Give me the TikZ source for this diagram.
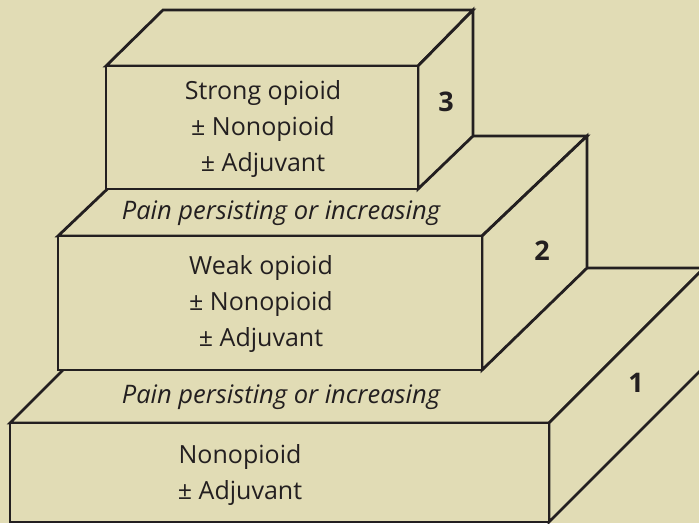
\documentclass[tikz,border=0pt]{standalone}
\usepackage{fontspec}
\setmainfont{Open Sans}
\definecolor{bg}{RGB}{225,220,181}
\definecolor{ink}{RGB}{35,31,32}
\tikzset{
  face/.style={fill=bg, draw=ink, line width=2.8pt, line join=miter},
  txt/.style={font=\fontsize{25}{36}\selectfont, text=ink, align=center, inner sep=0pt},
  pain/.style={font=\fontsize{25.5}{36}\selectfont\itshape, text=ink, inner sep=0pt},
  num/.style={font=\fontsize{27}{30}\selectfont\bfseries, text=ink, inner sep=0pt}
}
\begin{document}
\begin{tikzpicture}[x=1pt,y=-1pt]
\fill[bg] (0,0) rectangle (699,523);
\useasboundingbox (0,0) rectangle (699,523);
\begin{scope}
\clip (0,0) rectangle (699,523);
% box 1
\coordinate (a1) at (10,423); \coordinate (b1) at (549,423);
\coordinate (c1) at (549,522); \coordinate (d1) at (10,522);
\coordinate (e1) at (704,268); \coordinate (f1) at (165,268);
\coordinate (g1) at (704,367);
\draw[face] (a1) -- (b1) -- (e1) -- (f1) -- cycle;
\draw[face] (b1) -- (e1) -- (g1) -- (c1) -- cycle;
\draw[face] (a1) rectangle (c1);
% box 2
\coordinate (a2) at (58,236); \coordinate (b2) at (482,236);
\coordinate (c2) at (482,370); \coordinate (e2) at (587,136);
\coordinate (f2) at (163,136); \coordinate (g2) at (587,268);
\draw[face] (a2) -- (b2) -- (e2) -- (f2) -- cycle;
\draw[face] (b2) -- (e2) -- (g2) -- (c2) -- cycle;
\draw[face] (a2) rectangle (c2);
% box 3
\coordinate (a3) at (106,66); \coordinate (b3) at (418,66);
\coordinate (c3) at (418,189); \coordinate (e3) at (473,10);
\coordinate (f3) at (163,10); \coordinate (g3) at (473,136);
\draw[face] (a3) -- (b3) -- (e3) -- (f3) -- cycle;
\draw[face] (b3) -- (e3) -- (g3) -- (c3) -- cycle;
\draw[face] (a3) rectangle (c3);
\end{scope}
% texts
\node[txt] (t3) at (263,129) {Strong opioid\\± Nonopioid\\± Adjuvant};
\node[txt] (t2) at (261,304) {Weak opioid\\± Nonopioid\\± Adjuvant};
\node[txt] (t1) at (240,475) {Nonopioid\\± Adjuvant};
\node[pain] (p2) at (281,213) {Pain persisting or increasing};
\node[pain] (p1) at (281,397) {Pain persisting or increasing};
\node[num] (n3) at (446,102) {3};
\node[num] (n2) at (542,251) {2};
\node[num] (n1) at (636,383) {1};
\end{tikzpicture}
\end{document}
